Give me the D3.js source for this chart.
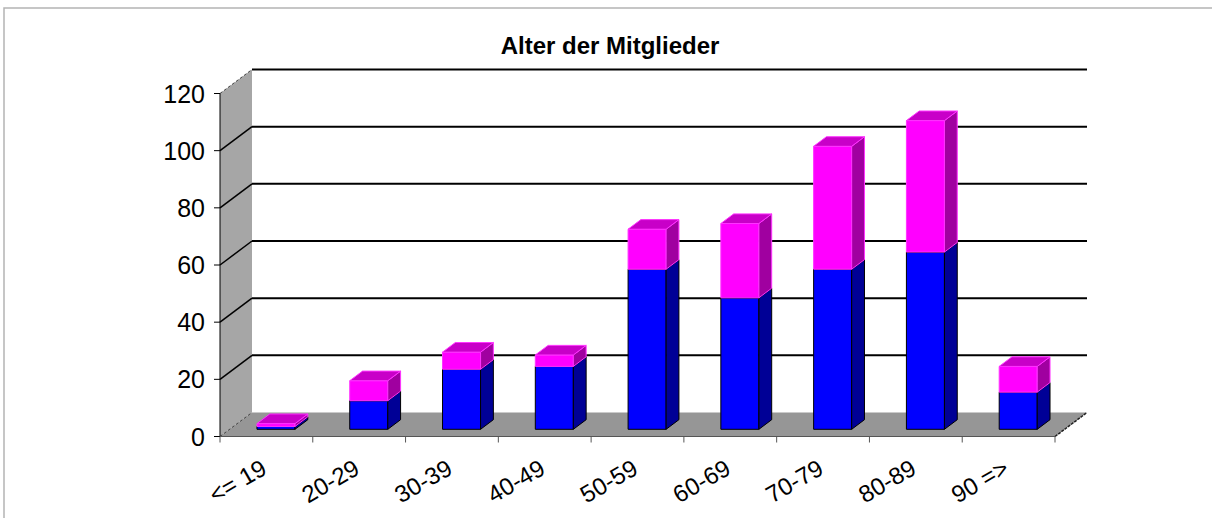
<!DOCTYPE html>
<html>
<head>
<meta charset="utf-8">
<script src="https://cdn.jsdelivr.net/npm/d3@7"></script>
<style>
  body { margin: 0; background: #fff; }
  svg { display: block; font-family: "Liberation Sans", Arial, sans-serif; }
</style>
</head>
<body>
<svg id="chart" width="1212" height="518"></svg>
<script>
// data
const categories = ["<= 19", "20-29", "30-39", "40-49", "50-59", "60-69", "70-79", "80-89", "90 =>"];
const blueValues = [1, 10, 21, 22, 56, 46, 56, 62, 13];
const pinkValues = [1, 7, 6, 4, 14, 26, 43, 46, 9];
const yTicks = [0, 20, 40, 60, 80, 100, 120];
const chartTitle = "Alter der Mitglieder";

(function () {
  const svg = d3.select('#chart');

  // front plane of the 3d box, plus the depth offset to the back wall
  const depthX = 32, depthY = -24;
  const x = d3.scaleBand().domain(categories).range([220, 1055])
    .paddingInner(0.59).paddingOuter(0.295);
  const y = d3.scaleLinear().domain([0, 120]).range([436.5, 93.5]);

  // project a point (front x, value, depth 0..1) to the screen
  const P = (px, v, d) => [px + d * depthX, y(v) + d * depthY];
  const poly = (pts) => pts.map(p => p.join(',')).join(' ');

  // outer frame
  svg.append('path')
    .attr('d', 'M4,518 L4,8 L1212,8')
    .attr('fill', 'none').attr('stroke', '#b4b4b4').attr('stroke-width', 1.5);

  // title
  svg.append('text')
    .attr('x', 610).attr('y', 54)
    .attr('text-anchor', 'middle')
    .attr('font-size', 24).attr('font-weight', 'bold')
    .text(chartTitle);

  const x0 = x.range()[0], x1 = x.range()[1];

  // left wall
  svg.append('polygon')
    .attr('points', poly([P(x0, 120, 0), P(x0, 120, 1), P(x0, 0, 1), P(x0, 0, 0)]))
    .attr('fill', '#a6a6a6');

  // floor
  svg.append('polygon')
    .attr('points', poly([P(x0, 0, 0), P(x1, 0, 0), P(x1, 0, 1), P(x0, 0, 1)]))
    .attr('fill', '#969696');

  // gridlines on back wall and left wall
  yTicks.forEach(t => {
    const edge = (t === 0 || t === 120);
    svg.append('line')
      .attr('x1', P(x0, t, 0)[0]).attr('y1', P(x0, t, 0)[1])
      .attr('x2', P(x0, t, 1)[0]).attr('y2', P(x0, t, 1)[1])
      .attr('stroke', edge ? '#444' : '#000')
      .attr('stroke-width', edge ? 1 : 1.5)
      .attr('stroke-dasharray', edge ? '3,2' : null);
    if (t > 0) {
      svg.append('line')
        .attr('x1', P(x0, t, 1)[0]).attr('y1', P(x0, t, 1)[1])
        .attr('x2', P(x1, t, 1)[0]).attr('y2', P(x1, t, 1)[1])
        .attr('stroke', '#000').attr('stroke-width', 2);
    }
  });

  // floor right edge
  svg.append('line')
    .attr('x1', P(x1, 0, 0)[0]).attr('y1', P(x1, 0, 0)[1])
    .attr('x2', P(x1, 0, 1)[0]).attr('y2', P(x1, 0, 1)[1])
    .attr('stroke', '#222').attr('stroke-width', 1.5).attr('stroke-dasharray', '3,1');

  // axes lines
  svg.append('line')
    .attr('x1', x0).attr('y1', y(120)).attr('x2', x0).attr('y2', y(0))
    .attr('stroke', '#000').attr('stroke-width', 1);
  svg.append('line')
    .attr('x1', x0).attr('y1', y(0)).attr('x2', x1).attr('y2', y(0))
    .attr('stroke', '#555').attr('stroke-width', 1);

  // y ticks + labels
  const yAxis = svg.append('g');
  yTicks.forEach(t => {
    yAxis.append('line')
      .attr('x1', x0 - 6).attr('x2', x0).attr('y1', y(t)).attr('y2', y(t))
      .attr('stroke', '#000');
    yAxis.append('text')
      .attr('x', 205).attr('y', y(t)).attr('dy', '0.36em')
      .attr('text-anchor', 'end').attr('font-size', 25)
      .text(t);
  });

  // x ticks + rotated labels
  const step = x.step();
  d3.range(categories.length + 1).forEach(i => {
    svg.append('line')
      .attr('x1', x0 + i * step).attr('x2', x0 + i * step)
      .attr('y1', y(0)).attr('y2', y(0) + 6)
      .attr('stroke', '#555');
  });
  categories.forEach((c, i) => {
    const cx = x0 + (i + 0.5) * step + 2;
    svg.append('text')
      .attr('transform', `translate(${cx},473) rotate(-30)`)
      .attr('text-anchor', 'end').attr('font-size', 24)
      .text(c);
  });

  // stacked 3d bars
  const d0 = 0.3, d1 = 0.7;
  const series = [
    { values: blueValues, front: '#0000ff', side: '#000096', top: '#0000c8', stroke: '#000' },
    { values: pinkValues, front: '#ff00ff', side: '#a000a0', top: '#c800c8', stroke: '#ff33ff' }
  ];
  const bars = svg.append('g');
  categories.forEach((c, i) => {
    const bx0 = x(c), bx1 = x(c) + x.bandwidth();
    let base = 0;
    series.forEach(s => {
      const v0 = base, v1 = base + s.values[i];
      base = v1;
      // front face
      bars.append('polygon')
        .attr('points', poly([P(bx0, v1, d0), P(bx1, v1, d0), P(bx1, v0, d0), P(bx0, v0, d0)]))
        .attr('fill', s.front).attr('stroke', s.stroke).attr('stroke-width', 1);
      // side face
      bars.append('polygon')
        .attr('points', poly([P(bx1, v0, d0), P(bx1, v1, d0), P(bx1, v1, d1), P(bx1, v0, d1)]))
        .attr('fill', s.side).attr('stroke', s.stroke).attr('stroke-width', 1);
      // top face
      bars.append('polygon')
        .attr('points', poly([P(bx0, v1, d0), P(bx1, v1, d0), P(bx1, v1, d1), P(bx0, v1, d1)]))
        .attr('fill', s.top).attr('stroke', s.stroke).attr('stroke-width', 1);
    });
  });
})();
</script>
</body>
</html>
